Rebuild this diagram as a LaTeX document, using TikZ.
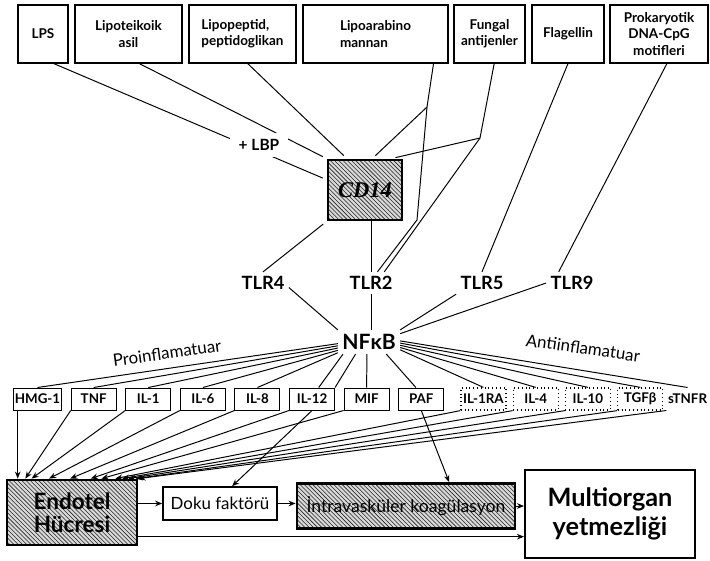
\documentclass[tikz,border=0pt]{standalone}
\usepackage{fontspec}
\setmainfont{Lato}
\newfontfamily\cdfont{Liberation Serif}
\usetikzlibrary{arrows.meta, positioning, patterns}

\begin{document}
\begin{tikzpicture}[
    x=0.025cm, y=-0.025cm,
    node distance=0.215cm,
    source/.style={draw, line width=0.8pt, minimum height=1.45cm, inner sep=1pt, align=center, font=\bfseries\fontsize{9.6}{11.5}\selectfont},
    cytokine/.style={draw, line width=0.7pt, minimum width=1.125cm, minimum height=0.55cm, inner sep=1pt, font=\bfseries\fontsize{9.5}{10}\selectfont},
    anticyto/.style={cytokine, dotted, line width=0.9pt},
    receptor/.style={inner sep=3pt, font=\bfseries\fontsize{13}{15}\selectfont},
    hatched/.style={draw, line width=2pt, preaction={fill=gray!30}, pattern=north west lines, pattern color=black!85},
    link/.style={line width=0.7pt},
    arrow/.style={-{Stealth[length=5pt,width=4pt]}, line width=0.7pt},
    tag/.style={font=\fontsize{12}{14}\selectfont}
]
\useasboundingbox (0,0) rectangle (710,560);

% Microbial products
\node[source, minimum width=1.25cm] (lps) at (43,34) {LPS};
\node[source, minimum width=2.675cm] (teik) at (128.5,34) {Lipoteikoik\\asil};
\node[source, minimum width=2.675cm, align=left] (pep) at (242.5,34) {Lipopeptid,\\peptidoglikan};
\node[source, minimum width=3.625cm, align=left] (arab) at (375.5,34) {Lipoarabino\\mannan};
\node[source, minimum width=1.775cm] (fung) at (489.5,34) {Fungal\\antijenler};
\node[source, minimum width=1.8cm] (flag) at (568,34) {Flagellin};
\node[source, minimum width=2.45cm] (prok) at (659,34) {Prokaryotik\\DNA-CpG\\motifleri};

% CD14
\node[hatched, minimum width=1.85cm, minimum height=1.5cm, font=\cdfont\bfseries\itshape\fontsize{16}{18}\selectfont] (cd14) at (365,190) {CD14};

% Toll-like receptors
\node[receptor] (tlr4) at (263,283) {TLR4};
\node[receptor] (tlr2) at (371,283) {TLR2};
\node[receptor] (tlr5) at (482,283) {TLR5};
\node[receptor] (tlr9) at (572,283) {TLR9};

% NFkB
\node[inner sep=3pt, font=\bfseries\fontsize{15}{17}\selectfont] (nfkb) at (369,342) {NFκB};

% Mediators
\node[cytokine] (hmg) at (37.5,399) {HMG-1};
\node[cytokine, right=of hmg] (tnf) {TNF};
\node[cytokine, right=of tnf] (il1) {IL-1};
\node[cytokine, right=of il1] (il6) {IL-6};
\node[cytokine, right=of il6] (il8) {IL-8};
\node[cytokine, right=of il8] (il12) {IL-12};
\node[cytokine, right=of il12] (mif) {MIF};
\node[cytokine, right=of mif] (paf) {PAF};
\node[anticyto, right=0.4cm of paf] (il1ra) {IL-1RA};
\node[anticyto, right=0.15cm of il1ra] (il4) {IL-4};
\node[anticyto, right=0.15cm of il4] (il10) {IL-10};
\node[anticyto, right=0.15cm of il10] (tgfb) {TGFβ};
\node[cytokine, draw=none, minimum width=0pt, anchor=east] (stnfr) at (709,399) {sTNFR};

\node[tag, rotate=8] (pro) at (167,353) {Proinflamatuar};
\node[tag, rotate=-8] (anti) at (583,348) {Antiinflamatuar};

% Outcome
\node[hatched, minimum width=3.25cm, minimum height=1.625cm, align=center, font=\bfseries\fontsize{16}{16}\selectfont] (endotel) at (72,512.5) {Endotel\\Hücresi};
\node[draw, line width=1.2pt, minimum width=2.85cm, minimum height=0.825cm, font=\fontsize{12}{14}\selectfont] (doku) at (220,503.5) {Doku faktörü};
\node[hatched, minimum width=5.45cm, minimum height=1.125cm, inner sep=1pt, font=\fontsize{12.5}{14}\selectfont] (intra) at (406,506) {İntravasküler koagülasyon};
\node[draw, line width=1.4pt, minimum width=4.25cm, minimum height=2.2cm, align=center, font=\bfseries\fontsize{18}{21}\selectfont] (multi) at (610,514) {Multiorgan\\yetmezliği};

% Lines to CD14 and TLRs
\coordinate (ka) at (427,107);
\coordinate (kb) at (417,220);
\coordinate (kc) at (480,138);
\draw[link, shorten >=3pt] (lps.-70) -- (cd14.165);
\draw[link, shorten >=3pt] (teik.-70) -- (cd14.north west);
\draw[link, shorten >=3pt] (pep.-80) -- (cd14.120);
\draw[link] (arab.-27) -- (ka) -- (kb) -- (tlr2.60);
\draw[link, shorten >=3pt] (ka) -- (cd14.77);
\draw[link] (fung.-81) -- (kc) -- (tlr2.40);
\draw[link, shorten >=3pt] (kc) -- (cd14.50);
\draw[link] (flag.south) -- (tlr5.north);
\draw[link] (prok.-75) -- (tlr9.140);
\draw[link, shorten <=3pt] (cd14.south west) -- (tlr4.north);
\draw[link] (tlr2.north |- cd14.south) -- (tlr2.north);

% + LBP over the LPS and LTA lines
\node[fill=white, minimum width=1.45cm, minimum height=0.6cm, font=\bfseries\fontsize{11}{13}\selectfont] (lbp) at (259,145) {+ LBP};

% TLRs to NFkB
\draw[link] (tlr4.-10) -- (nfkb.north west);
\draw[link] (tlr2.south) -- (tlr2.south |- nfkb.north);
\draw[link] (tlr5.south west) -- (nfkb.north east);
\draw[link] (tlr9.west) -- (nfkb.15);

% NFkB to mediators
\draw[link] (nfkb.183) -- (hmg.north);
\draw[link] (nfkb.187) -- (tnf.north);
\draw[link] (nfkb.191) -- (il1.north);
\draw[link] (nfkb.195) -- (il6.north);
\draw[link] (nfkb.199) -- (il8.north);
\draw[link] (nfkb.-155) -- (il12.60);
\draw[link] (nfkb.-138) -- (il12.north east);
\draw[link] (nfkb.-100) -- (mif.north);
\draw[link] (nfkb.-35) -- (paf.115);
\draw[link] (nfkb.-14) -- (il1ra.north);
\draw[link] (nfkb.-10) -- (il4.north);
\draw[link] (nfkb.-6) -- (il10.north);
\draw[link] (nfkb.-2) -- (tgfb.north);
\draw[link] (nfkb.2) -- (stnfr.north);

% Mediators to endothelium
\draw[arrow] (endotel.148 |- hmg.south) -- (endotel.148);
\draw[arrow] (tnf.south west) -- (endotel.144);
\draw[arrow] (il1.south west) -- (endotel.140);
\draw[arrow] (il6.south west) -- (endotel.124);
\draw[arrow] (il8.south west) -- (endotel.93);
\draw[arrow] (il12.south west) -- (endotel.61);
\draw[arrow] (mif.south west) -- (endotel.49);
\draw[arrow] (il1ra.south west) -- (endotel.38);
\draw[arrow] (il4.south west) -- (endotel.34);
\draw[arrow] (il10.south west) -- (endotel.31);
\draw[arrow] (tgfb.south west) -- (endotel.28);
\draw[arrow] (stnfr.south west) -- (endotel.north east);
\draw[arrow] (il12.south) -- (doku.55);
\draw[arrow] (paf.south) -- (intra.29);

% Coagulation chain
\draw[arrow] (endotel.east |- doku.west) -- (doku.west);
\draw[arrow] (doku.east) -- (doku.east -| intra.west);
\draw[arrow] (intra.east) -- (intra.east -| multi.west);
\draw[arrow] (endotel.-20) -- (endotel.-20 -| multi.west);

\end{tikzpicture}
\end{document}
